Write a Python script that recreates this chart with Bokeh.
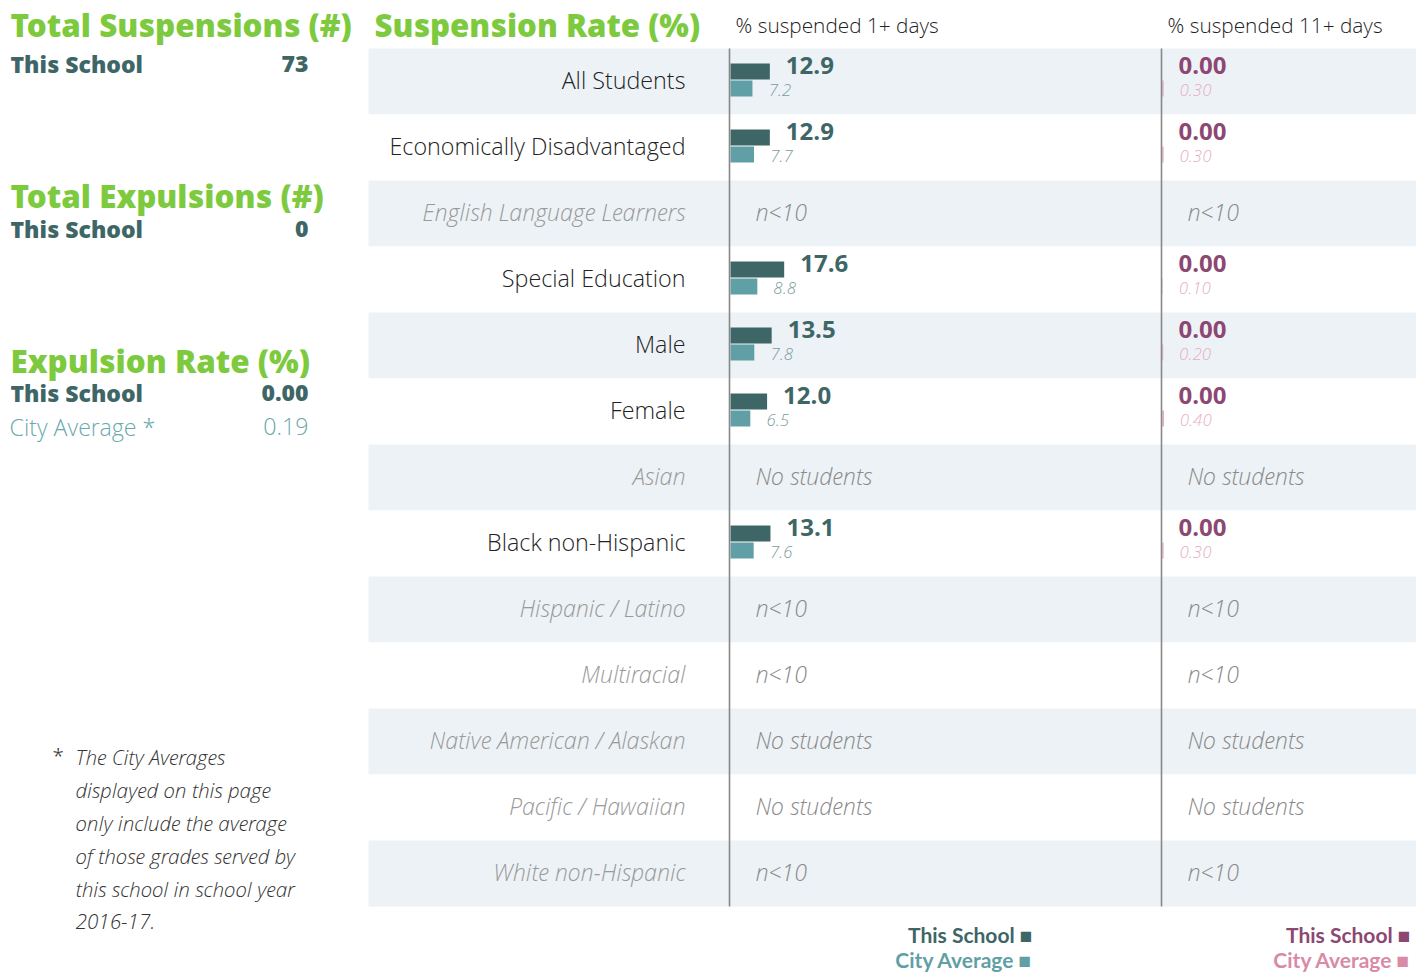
from bokeh.plotting import figure
from bokeh.models import ColumnDataSource, Range1d
from bokeh.core.properties import value
from bokeh.transform import dodge
from bokeh.embed import file_html
from bokeh.resources import INLINE

# ---------------- data ----------------
categories = ["All Students", "Economically Disadvantaged", "English Language Learners",
              "Special Education", "Male", "Female", "Asian", "Black non-Hispanic",
              "Hispanic / Latino", "Multiracial", "Native American / Alaskan",
              "Pacific / Hawaiian", "White non-Hispanic"]
school_1plus = [12.9, 12.9, None, 17.6, 13.5, 12.0, None, 13.1, None, None, None, None, None]
city_1plus = [7.2, 7.7, None, 8.8, 7.8, 6.5, None, 7.6, None, None, None, None, None]
school_11plus = [0.00, 0.00, None, 0.00, 0.00, 0.00, None, 0.00, None, None, None, None, None]
city_11plus = [0.30, 0.30, None, 0.10, 0.20, 0.40, None, 0.30, None, None, None, None, None]
status = ["", "", "n<10", "", "", "", "No students", "", "n<10", "n<10",
          "No students", "No students", "n<10"]

total_suspensions = 73
total_expulsions = 0
expulsion_rate_school = 0.00
expulsion_rate_city = 0.19

footnote = ["The City Averages", "displayed on this page", "only include the average",
            "of those grades served by", "this school in school year", "2016-17."]

# ---------------- style ----------------
GREEN = "#7dca3e"
TEAL_D = "#3e6667"
TEAL_L = "#5f9fa5"
TEAL_TXT = "#6aa9ae"
PURP = "#8c4772"
PINK = "#d98aa6"
PINK_TXT = "#e6aec2"
ROWBG = "#edf2f6"
DARK = "#222222"

HEAD_FONT = value("Open Sans ExtraBold, Open Sans")
BOLD_FONT = value("Open Sans")
LIGHT_FONT = value("Open Sans Light, Open Sans")
LEG_FONT = value("Source Sans Pro, Lato")

W, H = 1416, 973
OX, OY = 0, 0
ROW_TOP, ROW_H = 48, 66
K = 3.05                 # px per percentage point
Z1, Z2 = 730, 1162       # zero positions of the two columns (page px)
TY = -2                  # vertical text nudge

p = figure(width=W, height=H, output_backend="svg", toolbar_location=None,
           x_axis_type=None, y_axis_type=None, min_border=0,
           x_range=Range1d(OX, OX + W), y_range=Range1d(OY + H, OY))
p.outline_line_color = None
p.grid.visible = False
p.background_fill_color = "white"
p.border_fill_color = "white"

p.extra_y_ranges = {"rows": Range1d((OY + H - ROW_TOP) / ROW_H - 0.5,
                                     (OY - ROW_TOP) / ROW_H - 0.5)}
p.extra_x_ranges = {"c1": Range1d((OX - Z1) / K, (OX + W - Z1) / K),
                    "c2": Range1d((OX - Z2) / K, (OX + W - Z2) / K)}

n = len(categories)
idx = list(range(n))
bg_colors = [ROWBG if i % 2 == 0 else "white" for i in idx]
has = [s == "" for s in status]
lab_color = [DARK if h else "#9a9a9a" for h in has]
lab_style = ["normal" if h else "italic" for h in has]

rows = ColumnDataSource(dict(idx=idx, cat=categories, bg=bg_colors,
                             col=lab_color, sty=lab_style, status=status))

# row backgrounds
p.hbar(y="idx", left=368, right=1420, height=1.0, fill_color="bg", line_color=None,
       source=rows, y_range_name="rows")

# category labels
p.text(x=685, y="idx", text="cat", source=rows, y_range_name="rows", y_offset=TY,
       text_font=LIGHT_FONT, text_font_size="23.3px", text_color="col",
       text_font_style="sty", text_align="right", text_baseline="middle")

# status texts for rows without data
st = ColumnDataSource(dict(idx=[i for i in idx if status[i]],
                           status=[s for s in status if s]))
for rn in ("c1", "c2"):
    p.text(x=0, y="idx", text="status", source=st, x_range_name=rn, y_range_name="rows",
           x_offset=25, y_offset=TY, text_font=LIGHT_FONT, text_font_size="23.3px",
           text_color="#8a8a8a", text_font_style="italic", text_align="left",
           text_baseline="middle")

vi = [i for i in idx if school_1plus[i] is not None]
bars = ColumnDataSource(dict(
    idx=vi,
    s1=[school_1plus[i] for i in vi], c1=[city_1plus[i] for i in vi],
    s2=[school_11plus[i] for i in vi], c2=[city_11plus[i] for i in vi],
    s1t=[f"{school_1plus[i]:.1f}" for i in vi], c1t=[f"{city_1plus[i]:.1f}" for i in vi],
    s2t=[f"{school_11plus[i]:.2f}" for i in vi], c2t=[f"{city_11plus[i]:.2f}" for i in vi],
))

BH = 16 / ROW_H
S_OFF = -10 / ROW_H
C_OFF = 7 / ROW_H
SL_OFF = -14 / ROW_H
CL_OFF = 10 / ROW_H

for rn, sf, cf, sc, cc, stc, ctc, scol, ccol in (
        ("c1", "s1", "c1", TEAL_D, TEAL_L, "s1t", "c1t", TEAL_D, "#7c9c9c"),
        ("c2", "s2", "c2", PURP, PINK, "s2t", "c2t", PURP, PINK_TXT)):
    p.hbar(y=dodge("idx", S_OFF), left=0, right=sf, height=BH, fill_color=sc,
           line_color=None, source=bars, x_range_name=rn, y_range_name="rows")
    p.hbar(y=dodge("idx", C_OFF), left=0, right=cf, height=BH, fill_color=cc,
           line_color=None, source=bars, x_range_name=rn, y_range_name="rows")
    p.text(x=sf, y=dodge("idx", SL_OFF), text=stc, source=bars, x_range_name=rn,
           y_range_name="rows", x_offset=16, y_offset=TY, text_font=BOLD_FONT,
           text_font_style="bold", text_font_size="24px", text_color=scol,
           text_align="left", text_baseline="middle")
    p.text(x=cf, y=dodge("idx", CL_OFF), text=ctc, source=bars, x_range_name=rn,
           y_range_name="rows", x_offset=16, y_offset=TY, text_font=LIGHT_FONT,
           text_font_style="italic", text_font_size="17px", text_color=ccol,
           text_align="left", text_baseline="middle")

# column axis lines
p.segment(x0=[Z1 - 1, Z2 - 1], x1=[Z1 - 1, Z2 - 1], y0=[ROW_TOP] * 2,
          y1=[ROW_TOP + n * ROW_H] * 2, line_color="#888888", line_width=1.6)

# headers
p.text(x=[374], y=[26 + TY], text=["Suspension Rate (%)"], text_font=HEAD_FONT,
       text_font_style="bold", text_font_size="31.2px", text_color=GREEN,
       text_baseline="middle")
p.text(x=[735, 1167], y=[26 + TY] * 2, text=["% suspended 1+ days", "% suspended 11+ days"],
       text_font=LIGHT_FONT, text_font_size="20.8px", text_color=DARK, text_baseline="middle")

# left panel
p.text(x=[10, 10, 10], y=[26 + TY, 197 + TY, 362 + TY],
       text=["Total Suspensions (#)", "Total Expulsions (#)", "Expulsion Rate (%)"],
       text_font=HEAD_FONT, text_font_style="bold", text_font_size="31.4px",
       text_color=GREEN, text_baseline="middle")
p.text(x=[10, 10, 10], y=[65 + TY, 230 + TY, 394 + TY], text=["This School"] * 3,
       text_font=HEAD_FONT, text_font_style="bold", text_font_size="23px",
       text_color=TEAL_D, text_baseline="middle")
p.text(x=[308, 308, 308], y=[65 + TY, 230 + TY, 394 + TY],
       text=[str(total_suspensions), str(total_expulsions), f"{expulsion_rate_school:.2f}"],
       text_font=HEAD_FONT, text_font_style="bold", text_font_size="23px",
       text_color=TEAL_D, text_align="right", text_baseline="middle")
p.text(x=[9], y=[428 + TY], text=["City Average *"],
       text_font=LIGHT_FONT, text_font_size="23.2px", text_color=TEAL_TXT,
       text_align="left", text_baseline="middle")
p.text(x=[308], y=[428 + TY], text=[f"{expulsion_rate_city:.2f}"],
       text_font=LIGHT_FONT, text_font_size="23.2px", text_color=TEAL_TXT,
       text_align="right", text_baseline="middle")

# footnote
p.text(x=[52], y=[756 + TY], text=["*"], text_font=LIGHT_FONT, text_font_size="20.7px",
       text_color="#333333", text_baseline="middle")
p.text(x=[75] * len(footnote), y=[758 + TY + 33 * i for i in range(len(footnote))],
       text=footnote, text_font=LIGHT_FONT, text_font_style="italic",
       text_font_size="20.7px", text_color="#333333", text_baseline="middle")

# legends
p.text(x=[1032, 1032, 1410, 1410], y=[934, 959, 934, 959],
       text=["This School \u25a0", "City Average \u25a0", "This School \u25a0", "City Average \u25a0"],
       text_color=[TEAL_D, TEAL_L, PURP, PINK], text_font=LEG_FONT, text_font_style="bold",
       text_font_size="21px", text_align="right", text_baseline="middle")

open("out.html", "w").write(file_html(p, INLINE))
